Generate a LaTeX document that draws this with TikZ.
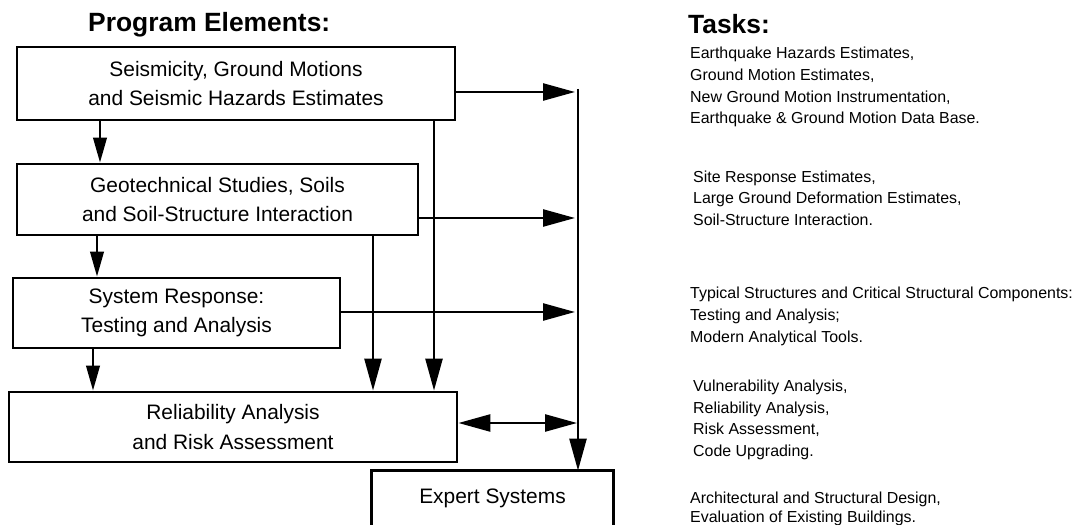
\documentclass[tikz,border=0pt]{standalone}
\usepackage{fontspec}
\setmainfont{Liberation Sans}
\usetikzlibrary{arrows.meta}
\begin{document}
\begin{tikzpicture}[x=1bp,y=-1bp,
  box/.style={draw, line width=2.8bp, inner sep=0pt, align=center,
    font=\fontsize{21}{29.5}\selectfont},
  conn/.style={line width=2.5bp},
  bigarr/.style={conn, -{Triangle[length=32bp,width=17bp]}},
  dblarr/.style={conn, {Triangle[length=32bp,width=17bp]}-{Triangle[length=32bp,width=17bp]}},
  smallarr/.style={conn, -{Triangle[length=25bp,width=13.5bp]}},
  head/.style={font=\bfseries\fontsize{26.5}{30}\selectfont, inner sep=0pt, anchor=base west},
  task/.style={font=\fontsize{16}{20}\selectfont, inner sep=0pt, anchor=base west}]
\useasboundingbox (0,0) rectangle (1081,525);
\fill[white] (0,0) rectangle (1081,525);

% headings
\node[head] (hpe) at (88,32) {Program Elements:};
\node[head] (hta) at (688,34) {Tasks:};

% program element boxes
\node[box, minimum width=438bp, minimum height=73bp] (b1) at (236,83.5)
  {Seismicity, Ground Motions\\and Seismic Hazards Estimates};
\node[box, minimum width=401bp, minimum height=71bp] (b2) at (217.5,199.5)
  {Geotechnical Studies, Soils\\and Soil-Structure Interaction};
\node[box, minimum width=327bp, minimum height=70bp] (b3) at (176.5,313)
  {System Response:\\Testing and Analysis};
\node[box, minimum width=448bp, minimum height=70bp] (b4) at (233,427)
  {Reliability Analysis\\and Risk Assessment};
\node[box, draw=none, minimum width=239bp, minimum height=53bp] (es) at (492.5,498.5)
  {Expert Systems};
\draw[line width=2.8bp] (es.south west) -- (es.north west) -- (es.north east) -- (es.south east);

% helper coordinates
\coordinate (xa) at (100,0);
\coordinate (xb) at (97,0);
\coordinate (xc) at (93,0);
\coordinate (xd) at (373,0);
\coordinate (xe) at (434,0);
\coordinate (bustop) at (578,89);
\coordinate (y1) at (0,92);
\coordinate (y2) at (0,218);
\coordinate (y3) at (0,312);
\coordinate (y4) at (0,423);

% downward connectors
\draw[smallarr] (b1.south -| xa) -- (b2.north -| xa);
\draw[smallarr] (b2.south -| xb) -- (b3.north -| xb);
\draw[smallarr] (b3.south -| xc) -- (b4.north -| xc);
\draw[bigarr] (b2.south -| xd) -- (b4.north -| xd);
\draw[bigarr] (b1.south -| xe) -- (b4.north -| xe);

% bus to expert systems
\draw[bigarr] (bustop) -- (es.north -| bustop);

% horizontal connectors to bus
\draw[bigarr, shorten >=3bp] (b1.east |- y1) -- (bustop |- y1);
\draw[bigarr, shorten >=3bp] (b2.east |- y2) -- (bustop |- y2);
\draw[bigarr, shorten >=3bp] (b3.east |- y3) -- (bustop |- y3);
\draw[dblarr, shorten >=1bp] (b4.east |- y4) -- (bustop |- y4);

% tasks
\node[task] (t11) at (690,59) {Earthquake Hazards Estimates,};
\node[task] (t12) at (690,81) {Ground Motion Estimates,};
\node[task] (t13) at (690,103) {New Ground Motion Instrumentation,};
\node[task] (t14) at (690,124) {Earthquake \& Ground Motion Data Base.};
\node[task] (t21) at (693,183) {Site Response Estimates,};
\node[task] (t22) at (693,204) {Large Ground Deformation Estimates,};
\node[task] (t23) at (693,226) {Soil-Structure Interaction.};
\node[task] (t31) at (690,299) {Typical Structures and Critical Structural Components:};
\node[task] (t32) at (690,321) {Testing and Analysis;};
\node[task] (t33) at (690,343) {Modern Analytical Tools.};
\node[task] (t41) at (693,391) {Vulnerability Analysis,};
\node[task] (t42) at (693,413) {Reliability Analysis,};
\node[task] (t43) at (693,434) {Risk Assessment,};
\node[task] (t44) at (693,456) {Code Upgrading.};
\node[task] (t51) at (690,503) {Architectural and Structural Design,};
\node[task] (t52) at (690,522) {Evaluation of Existing Buildings.};
\end{tikzpicture}
\end{document}
